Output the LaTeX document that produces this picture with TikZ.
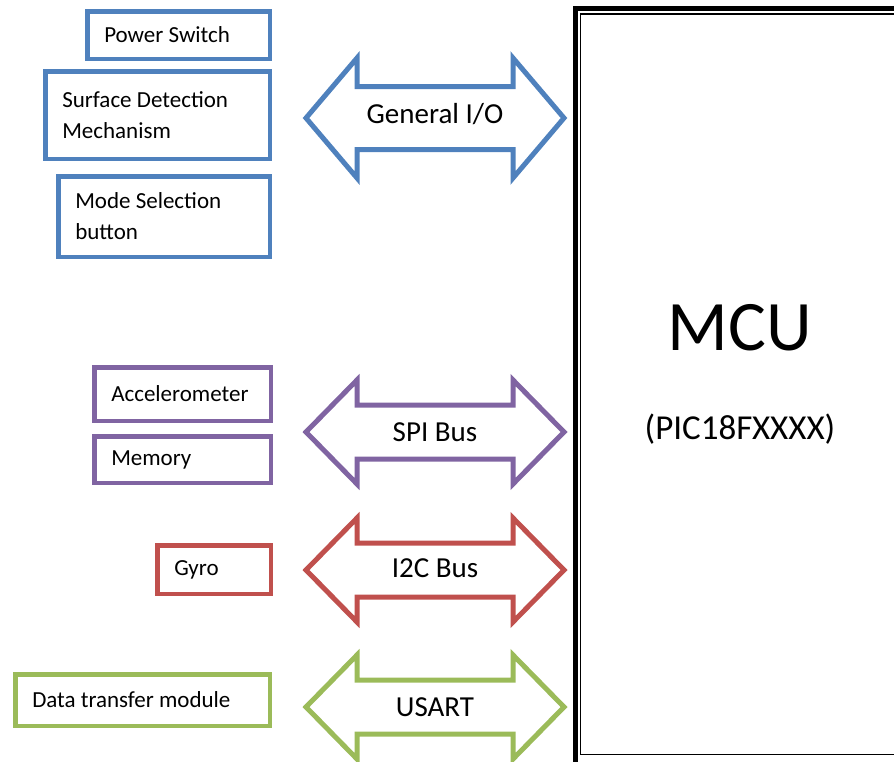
\documentclass[tikz,border=0pt]{standalone}
\usepackage{fontspec}
\setmainfont{Carlito}
\usepackage{tikz}
\definecolor{ioblue}{HTML}{4F81BD}
\definecolor{spipurple}{HTML}{8064A2}
\definecolor{i2cred}{HTML}{C0504D}
\definecolor{usartgreen}{HTML}{9BBB59}
\newcommand\tightspace{\spaceskip=0pt\relax}

\begin{document}
\begin{tikzpicture}[x=1pt, y=-1pt,
  dev/.style={draw, line width=4.5pt, anchor=north west, align=left, inner xsep=17pt, inner ysep=0pt, font=\fontsize{23}{31}\selectfont, execute at begin node=\tightspace},
  bus/.style={line width=5pt, line join=miter},
  buslabel/.style={font=\fontsize{29}{33}\selectfont}]
\useasboundingbox (0,0) rectangle (894,761);

% MCU block, cut off on the right
\node[draw, line width=5pt, anchor=north west, minimum width=400pt, minimum height=760pt] (mcu) at (573,6) {};
\draw[line width=1.5pt] (580.5,14) rectangle (1000,754.5);
\node[font=\fontsize{71}{80}\selectfont] (mcuname) at (740,328) {MCU};
\node[font=\fontsize{35}{40}\selectfont] (mcupart) at (740,429) {(PIC18FXXXX)};

% general I/O devices
\node[dev, ioblue, text=black, text width=148.5pt, minimum height=47.5pt] (pwr) at (85,9) {Power Switch};
\node[dev, ioblue, text=black, text width=190.5pt, minimum height=87.5pt] (sdm) at (43,69) {Surface Detection\\Mechanism};
\node[dev, ioblue, text=black, text width=177.5pt, minimum height=80.5pt] (msb) at (56,174) {Mode Selection\\button};

% SPI devices
\node[dev, spipurple, text=black, text width=142.5pt, minimum height=53.5pt] (acc) at (92,365) {Accelerometer};
\node[dev, spipurple, text=black, text width=142.5pt, minimum height=46.5pt] (mem) at (92,434) {Memory};

% I2C and USART devices
\node[dev, i2cred, text=black, text width=79.5pt, minimum height=48.5pt] (gyro) at (155,543) {Gyro};
\node[dev, usartgreen, text=black, text width=220.5pt, minimum height=51.5pt] (dtm) at (13,672) {Data transfer module};

% bus arrows
\draw[bus, ioblue] (306,118) -- (357,58) -- (357,86.5) -- (513,86.5) -- (513,58) -- (564,118) -- (513,178) -- (513,149.5) -- (357,149.5) -- (357,178) -- cycle;
\node[buslabel] (gio) at (435,114) {General I/O};
\draw[bus, spipurple] (306,432) -- (357,380) -- (357,405) -- (513,405) -- (513,380) -- (564,432) -- (513,484) -- (513,459) -- (357,459) -- (357,484) -- cycle;
\node[buslabel] (spi) at (435,432) {SPI Bus};
\draw[bus, i2cred] (306,570) -- (357,518) -- (357,543) -- (513,543) -- (513,518) -- (564,570) -- (513,622) -- (513,597) -- (357,597) -- (357,622) -- cycle;
\node[buslabel] (i2c) at (435,568) {I2C Bus};
\draw[bus, usartgreen] (306,707) -- (357,655) -- (357,680) -- (513,680) -- (513,655) -- (564,707) -- (513,759) -- (513,734) -- (357,734) -- (357,759) -- cycle;
\node[buslabel] (usart) at (435,707) {USART};
\end{tikzpicture}
\end{document}
